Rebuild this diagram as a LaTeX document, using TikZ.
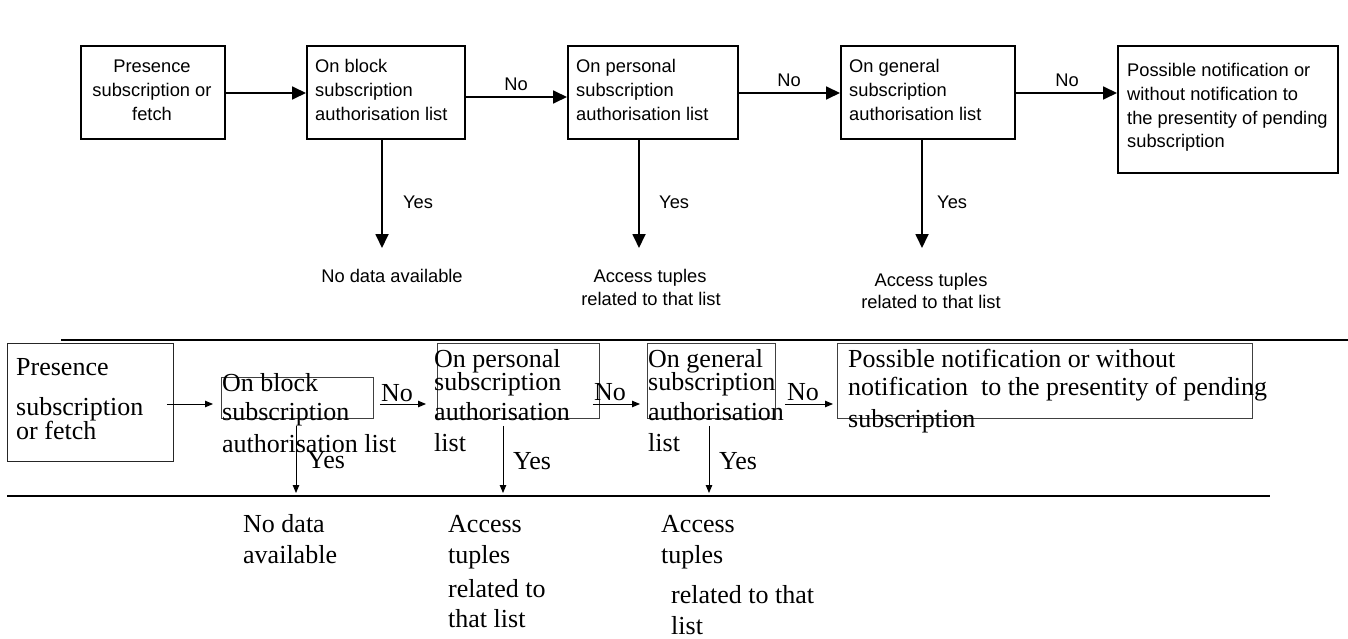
\documentclass[tikz,border=0pt]{standalone}
\usepackage{fontspec}
\setmainfont{Liberation Serif}
\newfontfamily\arialfont{Liberation Sans}
\usetikzlibrary{arrows.meta}
\tikzset{
  tbox/.style={draw=black, line width=1.8pt, rectangle, inner sep=0pt, anchor=north west},
  lbox/.style={draw=black!75, line width=0.9pt, rectangle, inner sep=0pt, anchor=north west},
  tarr/.style={line width=1.8pt, -{Triangle[length=14pt,width=13pt]}},
  barr/.style={line width=0.9pt, -{Triangle[length=8pt,width=6.5pt]}},
  ttxt/.style={font=\arialfont\fontsize{18.3pt}{22pt}\selectfont, inner sep=0pt, anchor=base west},
  ttxtc/.style={ttxt, anchor=base},
  btxt/.style={font=\fontsize{26pt}{30pt}\selectfont, inner sep=0pt, anchor=base west},
  hline/.style={line width=1.1pt, draw=black}
}
\begin{document}
\begin{tikzpicture}[x=1pt,y=-1pt]
\useasboundingbox[fill=white] (0,0) rectangle (1348,639);

% ---------------- top diagram ----------------
\node[tbox, minimum width=144pt, minimum height=93pt] (b1) at (80,45) {};
\node[tbox, minimum width=158pt, minimum height=93pt] (b2) at (306,45) {};
\node[tbox, minimum width=170pt, minimum height=93pt] (b3) at (567,45) {};
\node[tbox, minimum width=174pt, minimum height=93pt] (b4) at (840,45) {};
\node[tbox, minimum width=220pt, minimum height=127pt] (b5) at (1117,45) {};

\node[ttxtc] (t1a) at (152,73) {Presence};
\node[ttxtc] (t1b) at (152,97) {subscription or};
\node[ttxtc] (t1c) at (152,121) {fetch};

\node[ttxt] (t2a) at (315,73) {On block};
\node[ttxt] (t2b) at (315,97) {subscription};
\node[ttxt] (t2c) at (315,121) {authorisation list};

\node[ttxt] (t3a) at (576,73) {On personal};
\node[ttxt] (t3b) at (576,97) {subscription};
\node[ttxt] (t3c) at (576,121) {authorisation list};

\node[ttxt] (t4a) at (849,73) {On general};
\node[ttxt] (t4b) at (849,97) {subscription};
\node[ttxt] (t4c) at (849,121) {authorisation list};

\node[ttxt] (t5a) at (1127,77) {Possible notification or};
\node[ttxt] (t5b) at (1127,101) {without notification to};
\node[ttxt] (t5c) at (1127,125) {the presentity of pending};
\node[ttxt] (t5d) at (1127,148) {subscription};

\draw[tarr] (b1.east |- 0,93) -- (b2.west |- 0,93);
\draw[tarr] (b2.east |- 0,97) -- (b3.west |- 0,97);
\draw[tarr] (b3.east |- 0,93) -- (b4.west |- 0,93);
\draw[tarr] (b4.east |- 0,93) -- (b5.west |- 0,93);

\node[ttxtc] (n1) at (516,91) {No};
\node[ttxtc] (n2) at (789,87) {No};
\node[ttxtc] (n3) at (1067,87) {No};

\coordinate (d1) at (382,248);
\coordinate (d2) at (639,248);
\coordinate (d3) at (922,248);
\draw[tarr] (b2.south -| d1) -- (d1);
\draw[tarr] (b3.south -| d2) -- (d2);
\draw[tarr] (b4.south -| d3) -- (d3);

\node[ttxt] (y1) at (403,208) {Yes};
\node[ttxt] (y2) at (659,208) {Yes};
\node[ttxt] (y3) at (937,208) {Yes};

\node[ttxtc] (r1) at (392,282) {No data available};
\node[ttxtc] (r2a) at (650,282) {Access tuples};
\node[ttxtc] (r2b) at (651,305) {related to that list};
\node[ttxtc] (r3a) at (931,286) {Access tuples};
\node[ttxtc] (r3b) at (931,308) {related to that list};

% ---------------- bottom diagram ----------------
\draw[hline] (61,340) -- (1348,340);
\draw[hline] (7,496) -- (1270,496);

\node[lbox, draw=black!85, minimum width=166pt, minimum height=118pt] (lb1) at (7,343) {};
\node[lbox, minimum width=152pt, minimum height=41pt] (lb2) at (221,377) {};
\node[lbox, minimum width=162pt, minimum height=75pt] (lb3) at (437,343) {};
\node[lbox, minimum width=128pt, minimum height=75pt] (lb4) at (647,343) {};
\node[lbox, minimum width=415pt, minimum height=75pt] (lb5) at (837,343) {};

\node[btxt] (s1a) at (16,375) {Presence};
\node[btxt] (s1b) at (16,415) {subscription};
\node[btxt] (s1c) at (16,439) {or fetch};

\node[btxt] (s2a) at (222,391) {On block};
\node[btxt] (s2b) at (222,420) {subscription};
\node[btxt] (s2c) at (222,452) {authorisation list};

\node[btxt] (s3a) at (434,367) {On personal};
\node[btxt] (s3b) at (434,390) {subscription};
\node[btxt] (s3c) at (434,420) {authorisation};
\node[btxt] (s3d) at (434,451) {list};

\node[btxt] (s4a) at (648,367) {On general};
\node[btxt] (s4b) at (648,390) {subscription};
\node[btxt] (s4c) at (648,420) {authorisation};
\node[btxt] (s4d) at (648,451) {list};

\node[btxt] (s5a) at (848,367) {Possible notification or without};
\node[btxt] (s5b) at (848,395) {notification\ \ to the presentity of pending};
\node[btxt] (s5c) at (848,427) {subscription};

\draw[barr, shorten <=-7pt, shorten >=8pt] (lb1.east |- 0,404) -- (lb2.west |- 0,404);
\draw[barr, shorten <=6pt, shorten >=11pt] (lb2.east |- 0,404) -- (lb3.west |- 0,404);
\draw[barr, shorten <=-7pt, shorten >=7pt] (lb3.east |- 0,404) -- (lb4.west |- 0,404);
\draw[barr, shorten <=9pt, shorten >=4pt] (lb4.east |- 0,404) -- (lb5.west |- 0,404);

\node[btxt] (m1) at (381,401) {No};
\node[btxt] (m2) at (594,400) {No};
\node[btxt] (m3) at (787,400) {No};

\coordinate (e1) at (296,493);
\coordinate (e2) at (503,493);
\coordinate (e3) at (709,493);
\draw[barr, shorten <=7pt] (lb2.south -| e1) -- (e1);
\draw[barr, shorten <=7pt] (lb3.south -| e2) -- (e2);
\draw[barr, shorten <=7pt] (lb4.south -| e3) -- (e3);

\node[btxt] (z1) at (307,468) {Yes};
\node[btxt] (z2) at (513,469) {Yes};
\node[btxt] (z3) at (719,469) {Yes};

\node[btxt] (q1a) at (243,532) {No data};
\node[btxt] (q1b) at (243,563) {available};
\node[btxt] (q2a) at (448,532) {Access};
\node[btxt] (q2b) at (448,563) {tuples};
\node[btxt] (q2c) at (448,597) {related to};
\node[btxt] (q2d) at (448,627) {that list};
\node[btxt] (q3a) at (661,532) {Access};
\node[btxt] (q3b) at (661,563) {tuples};
\node[btxt] (q3c) at (671,603) {related to that};
\node[btxt] (q3d) at (671,634) {list};
\end{tikzpicture}
\end{document}
